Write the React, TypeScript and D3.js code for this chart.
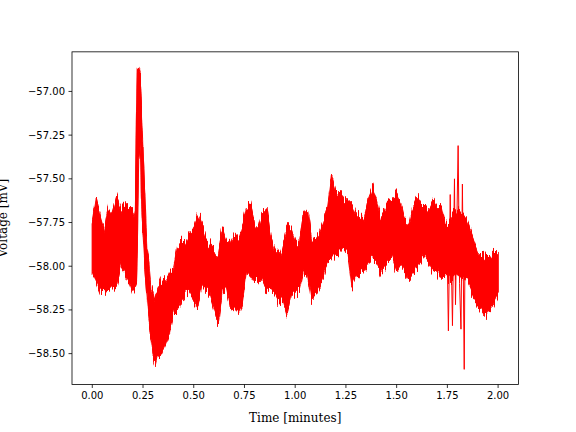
import React from "react";
import * as d3 from "d3";

// Time (minutes) of each envelope sample
const times: number[] = [
  0.0, 0.02, 0.04, 0.06, 0.08, 0.1, 0.12, 0.14, 0.16, 0.18, 0.2, 0.212, 0.218,
  0.222, 0.229, 0.236, 0.242, 0.249, 0.259, 0.269, 0.279, 0.289, 0.299, 0.309,
  0.32, 0.34, 0.36, 0.38, 0.4, 0.42, 0.44, 0.46, 0.48, 0.5, 0.52, 0.54, 0.56,
  0.58, 0.6, 0.62, 0.64, 0.66, 0.68, 0.7, 0.72, 0.74, 0.76, 0.78, 0.8, 0.82,
  0.84, 0.86, 0.88, 0.9, 0.92, 0.94, 0.96, 0.98, 1.0, 1.02, 1.04, 1.06, 1.08,
  1.1, 1.12, 1.14, 1.16, 1.18, 1.2, 1.22, 1.24, 1.26, 1.28, 1.3, 1.32, 1.34,
  1.36, 1.38, 1.4, 1.42, 1.44, 1.46, 1.48, 1.5, 1.52, 1.54, 1.56, 1.58, 1.6,
  1.62, 1.64, 1.66, 1.68, 1.7, 1.72, 1.74, 1.76, 1.78, 1.8, 1.82, 1.84, 1.86,
  1.88, 1.9, 1.92, 1.94, 1.96, 1.98, 2.0,
];

// Upper envelope of the voltage trace (mV)
const upper: number[] = [
  -57.75, -57.61, -57.72, -57.8, -57.66, -57.7, -57.6, -57.66, -57.64, -57.66,
  -57.66, -57.72, -57.1, -56.87, -56.86, -56.9, -57.1, -57.3, -57.6, -57.88,
  -57.99, -58.12, -58.16, -58.2, -58.14, -58.08, -58.1, -58.04, -58.02, -57.89,
  -57.85, -57.87, -57.81, -57.78, -57.7, -57.76, -57.85, -57.87, -57.91,
  -57.95, -57.78, -57.85, -57.86, -57.81, -57.85, -57.78, -57.66, -57.64,
  -57.76, -57.78, -57.68, -57.66, -57.84, -57.91, -57.95, -57.89, -57.78,
  -57.78, -57.86, -57.87, -57.7, -57.67, -57.85, -57.85, -57.8, -57.74,
  -57.66, -57.48, -57.58, -57.57, -57.62, -57.62, -57.64, -57.7, -57.72,
  -57.72, -57.61, -57.55, -57.62, -57.72, -57.68, -57.62, -57.61, -57.58,
  -57.64, -57.74, -57.77, -57.66, -57.6, -57.64, -57.66, -57.68, -57.62,
  -57.66, -57.66, -57.76, -57.74, -57.7, -57.68, -57.72, -57.72, -57.78,
  -57.85, -57.91, -57.93, -57.95, -57.95, -57.93, -57.91,
];

// Lower envelope of the voltage trace (mV)
const lower: number[] = [
  -58.03, -58.1, -58.16, -58.14, -58.13, -58.13, -58.12, -58.0, -58.02,
  -58.08, -58.15, -58.12, -58.1, -57.9, -57.38, -57.3, -57.6, -57.8, -58.0,
  -58.16, -58.3, -58.42, -58.52, -58.57, -58.51, -58.52, -58.46, -58.38,
  -58.27, -58.27, -58.2, -58.16, -58.14, -58.2, -58.24, -58.1, -58.14, -58.16,
  -58.24, -58.33, -58.16, -58.12, -58.24, -58.25, -58.27, -58.2, -58.04,
  -58.06, -58.1, -58.06, -58.08, -58.14, -58.12, -58.16, -58.21, -58.2,
  -58.28, -58.16, -58.16, -58.14, -58.03, -58.04, -58.19, -58.16, -58.12,
  -58.06, -57.97, -57.95, -57.93, -57.91, -57.89, -57.93, -58.12, -58.06,
  -58.04, -58.03, -57.99, -57.95, -57.97, -58.04, -58.01, -57.97, -57.95,
  -58.03, -57.99, -58.04, -58.09, -58.04, -58.01, -57.97, -57.95, -57.99,
  -58.03, -58.04, -58.08, -58.06, -58.08, -58.06, -58.04, -58.08, -58.06,
  -58.12, -58.18, -58.24, -58.25, -58.29, -58.25, -58.21, -58.16,
];

// Isolated large oscillation spikes near the end of the recording
const spikeTimes: number[] = [
  1.748, 1.755, 1.764, 1.775, 1.785, 1.79, 1.803, 1.81, 1.817, 1.824, 1.833,
  1.838,
];
const spikeValues: number[] = [
  -57.85, -58.37, -57.59, -58.34, -57.5, -58.22, -57.31, -58.1, -58.36,
  -57.53, -58.59, -57.72,
];

const xTicks: number[] = [0, 0.25, 0.5, 0.75, 1.0, 1.25, 1.5, 1.75, 2.0];
const yTicks: number[] = [-57.0, -57.25, -57.5, -57.75, -58.0, -58.25, -58.5];

const W = 576;
const H = 432;
const L = 72;
const R = 518.4;
const T = 51.84;
const B = 384.48;

export default function App() {
  const allVals = [...upper, ...lower, ...spikeValues];
  const [vMin, vMax] = d3.extent(allVals) as [number, number];
  const vPad = (vMax - vMin) * 0.05;
  const [tMin, tMax] = d3.extent(times) as [number, number];
  const tPad = (tMax - tMin) * 0.05;

  const x = d3.scaleLinear().domain([tMin - tPad, tMax + tPad]).range([L, R]);
  const y = d3.scaleLinear().domain([vMin - vPad, vMax + vPad]).range([B, T]);

  const idx = d3.range(times.length);
  const area = d3
    .area<number>()
    .x((i) => x(times[i]))
    .y0((i) => y(lower[i]))
    .y1((i) => y(upper[i]));

  const zig: [number, number][] = [];
  idx.forEach((i) => {
    if (i % 2 === 0) {
      zig.push([x(times[i]), y(upper[i])]);
      zig.push([x(times[i]), y(lower[i])]);
    } else {
      zig.push([x(times[i]), y(lower[i])]);
      zig.push([x(times[i]), y(upper[i])]);
    }
  });
  const line = d3.line();
  const spikePts: [number, number][] = spikeTimes.map((t, i) => [
    x(t),
    y(spikeValues[i]),
  ]);

  const fmt = d3.format(".2f");
  const tickFont = "'DejaVu Sans', sans-serif";
  const labelFont = "'DejaVu Serif', serif";

  return (
    <svg
      width={W}
      height={H}
      style={{ position: "absolute", left: 0, top: 0, background: "#fff" }}
    >
      <defs>
        <filter
          id="jag"
          filterUnits="userSpaceOnUse"
          x={0}
          y={0}
          width={W}
          height={H}
        >
          <feTurbulence
            type="fractalNoise"
            baseFrequency="0.7 0.03"
            numOctaves={2}
            seed={7}
            result="noise"
          />
          <feColorMatrix
            in="noise"
            type="matrix"
            values="0 0 0 0 0.5  0 1 0 0 0  0 0 0 0 0  0 0 0 0 1"
            result="vnoise"
          />
          <feDisplacementMap
            in="SourceGraphic"
            in2="vnoise"
            scale={20}
            xChannelSelector="R"
            yChannelSelector="G"
          />
        </filter>
        <clipPath id="axclip">
          <rect x={L} y={T} width={R - L} height={B - T} />
        </clipPath>
      </defs>
      <rect x={0} y={0} width={W} height={H} fill="#fff" />
      <g clipPath="url(#axclip)">
        <g filter="url(#jag)">
          <path d={area(idx) || ""} fill="#ff0000" stroke="#ff0000" strokeWidth={1} />
          <path d={line(zig) || ""} fill="none" stroke="#ff0000" strokeWidth={1} />
        </g>
        <path d={line(spikePts) || ""} fill="none" stroke="#ff0000" strokeWidth={1} />
      </g>
      <rect
        x={L}
        y={T}
        width={R - L}
        height={B - T}
        fill="none"
        stroke="#000"
        strokeWidth={0.8}
      />
      {xTicks.map((t) => (
        <g key={"x" + t}>
          <line x1={x(t)} x2={x(t)} y1={B} y2={B + 3.5} stroke="#000" strokeWidth={0.8} />
          <text
            x={x(t)}
            y={B + 7 + 8}
            textAnchor="middle"
            fontFamily={tickFont}
            fontSize={10}
            fill="#000"
          >
            {fmt(t)}
          </text>
        </g>
      ))}
      {yTicks.map((v) => (
        <g key={"y" + v}>
          <line x1={L - 3.5} x2={L} y1={y(v)} y2={y(v)} stroke="#000" strokeWidth={0.8} />
          <text
            x={L - 7}
            y={y(v)}
            dy="0.35em"
            textAnchor="end"
            fontFamily={tickFont}
            fontSize={10}
            fill="#000"
          >
            {fmt(v)}
          </text>
        </g>
      ))}
      <text
        x={(L + R) / 2}
        y={422}
        textAnchor="middle"
        fontFamily={labelFont}
        fontSize={12}
        fill="#000"
      >
        Time [minutes]
      </text>
      <text
        transform={`translate(7, ${(T + B) / 2}) rotate(-90)`}
        textAnchor="middle"
        fontFamily={labelFont}
        fontSize={12}
        fill="#000"
      >
        Voltage [mV]
      </text>
    </svg>
  );
}
